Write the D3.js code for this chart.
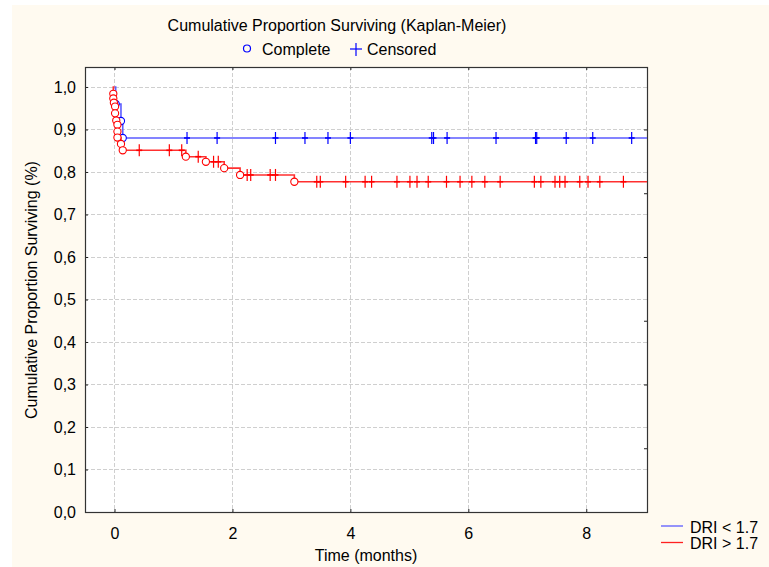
<!DOCTYPE html>
<html><head><meta charset="utf-8">
<script src="https://cdn.jsdelivr.net/npm/d3@7"></script>
<style>body{margin:0;background:#fff}svg{display:block}text{font-family:"Liberation Sans",Arial,sans-serif;fill:#000}</style>
</head><body>
<svg id="chart" width="769" height="567"></svg>
<script>
// ---- data ----
const yTicks = [0, 0.1, 0.2, 0.3, 0.4, 0.5, 0.6, 0.7, 0.8, 0.9, 1.0];
const yTicksRight = [0.15, 0.3, 0.45, 0.6, 0.75, 0.9];
const xTicks = [0, 2, 4, 6, 8];
const seriesNames = ["DRI < 1.7", "DRI > 1.7"];

// DRI < 1.7 : event (complete) times and survival after each event
const lowEventTimes = [0.02, 0.11, 0.14];
const lowEventSurv  = [0.96, 0.92, 0.88];
const lowCensored   = [1.23, 1.74, 2.73, 3.23, 3.62, 4.00, 5.38, 5.41, 5.64, 6.47, 7.14, 7.16, 7.66, 8.11, 8.77];

// DRI > 1.7
const highEventTimes = [-0.02, -0.02, -0.01, 0.01, 0.01, 0.03, 0.05, 0.05, 0.05, 0.11, 0.14, 1.21, 1.55, 1.86, 2.13, 3.05];
const highEventSurv  = [0.984, 0.973, 0.963, 0.954, 0.938, 0.921, 0.911, 0.895, 0.881, 0.866, 0.851, 0.836, 0.824, 0.809, 0.793, 0.777];
const highCensored   = [0.42, 0.93, 1.14, 1.42, 1.68, 1.76, 2.25, 2.31, 2.64, 2.73,
  3.43, 3.49, 3.92, 4.25, 4.36, 4.79, 5.01, 5.13, 5.32, 5.63, 5.86, 6.06, 6.28, 6.54,
  7.12, 7.23, 7.47, 7.55, 7.64, 7.89, 8.03, 8.23, 8.63];

// ---- layout ----
const svg = d3.select("#chart");
const L = 85, R = 647, T = 67, B = 512;
const x = d3.scaleLinear().domain([-0.5, 9.03]).range([L, R]);
const y = d3.scaleLinear().domain([0, 1.047]).range([B, T]);

svg.append("rect").attr("x", 12).attr("y", 5).attr("width", 757).attr("height", 562).attr("fill", "#fffaf0");
svg.append("rect").attr("x", L).attr("y", T).attr("width", R - L).attr("height", B - T).attr("fill", "#fff");

// grid
const grid = svg.append("g").attr("stroke", "#cfcfcf").attr("stroke-dasharray", "4,2").attr("stroke-width", 1);
yTicks.filter(d => d > 0).forEach(d => grid.append("line").attr("x1", L).attr("x2", R).attr("y1", Math.round(y(d)) + 0.5).attr("y2", Math.round(y(d)) + 0.5));
xTicks.forEach(d => grid.append("line").attr("y1", T).attr("y2", B).attr("x1", Math.round(x(d)) + 0.5).attr("x2", Math.round(x(d)) + 0.5));

// axes (inward ticks on all sides)
const axL = d3.axisLeft(y).tickValues(yTicks).tickSize(-3).tickPadding(9).tickFormat(d => d3.format(".1f")(d).replace(".", ","));
const axB = d3.axisBottom(x).tickValues(xTicks).tickSize(-3).tickPadding(16).tickFormat(d3.format("d"));
const axR = d3.axisRight(y).tickValues(yTicksRight).tickSize(-3).tickFormat("");
const axT = d3.axisTop(x).tickValues(xTicks).tickSize(-3).tickFormat("");
function styleAx(g) { g.select(".domain").remove(); g.selectAll("line").attr("stroke", "#222"); g.selectAll("text").attr("font-size", 16).attr("font-family", "Liberation Sans, Arial, sans-serif").attr("fill", "#000"); }
svg.append("g").attr("transform", `translate(${L},0)`).call(axL).call(styleAx);
svg.append("g").attr("transform", `translate(0,${B})`).call(axB).call(styleAx);
svg.append("g").attr("transform", `translate(${R},0)`).call(axR).call(styleAx);
svg.append("g").attr("transform", `translate(0,${T})`).call(axT).call(styleAx);
svg.append("rect").attr("x", L + 0.5).attr("y", T + 0.5).attr("width", R - L).attr("height", B - T).attr("fill", "none").attr("stroke", "#333").attr("stroke-width", 1.2);

// survival curves
function survAt(times, surv, t) { let s = 1; times.forEach((tt, i) => { if (tt <= t) s = surv[i]; }); return s; }
const line = d3.line().x(d => x(d[0])).y(d => y(d[1])).curve(d3.curveStepAfter);
function drawSeries(times, surv, cens, lineCol, markCol) {
  const g = svg.append("g");
  const pts = [[0, 1]].concat(times.map((t, i) => [t, surv[i]]));
  pts.push([9.03, surv[surv.length - 1]]);
  g.append("path").datum(pts).attr("d", line).attr("fill", "none").attr("stroke", lineCol).attr("stroke-width", 1.6);
  cens.forEach(t => {
    const cx = x(t), cy = y(survAt(times, surv, t));
    g.append("line").attr("x1", cx).attr("x2", cx).attr("y1", cy - 6).attr("y2", cy + 6).attr("stroke", markCol).attr("stroke-width", 1.2);
    g.append("line").attr("x1", cx - 3).attr("x2", cx + 3).attr("y1", cy).attr("y2", cy).attr("stroke", markCol).attr("stroke-width", 1.6);
  });
  times.forEach((t, i) => {
    g.append("circle").attr("cx", x(t)).attr("cy", y(surv[i])).attr("r", 3.6).attr("fill", "#fff").attr("stroke", markCol).attr("stroke-width", 1.1);
  });
}
drawSeries(lowEventTimes, lowEventSurv, lowCensored, "#5c5cff", "#0000ff");
drawSeries(highEventTimes, highEventSurv, highCensored, "#ff3030", "#ff0000");

// titles
svg.append("text").attr("x", 337).attr("y", 31).attr("text-anchor", "middle").attr("font-size", 16).text("Cumulative Proportion Surviving (Kaplan-Meier)");
svg.append("circle").attr("cx", 247).attr("cy", 48.5).attr("r", 3.5).attr("fill", "none").attr("stroke", "#0000ff").attr("stroke-width", 1.2);
svg.append("text").attr("x", 262).attr("y", 55).attr("font-size", 16).text("Complete");
svg.append("line").attr("x1", 350).attr("x2", 362).attr("y1", 49).attr("y2", 49).attr("stroke", "#0000ff").attr("stroke-width", 1.2);
svg.append("line").attr("x1", 356).attr("x2", 356).attr("y1", 43).attr("y2", 56).attr("stroke", "#0000ff").attr("stroke-width", 1.2);
svg.append("text").attr("x", 367).attr("y", 55).attr("font-size", 16).text("Censored");
svg.append("text").attr("transform", "translate(37,290) rotate(-90)").attr("text-anchor", "middle").attr("font-size", 16).text("Cumulative Proportion Surviving (%)");
svg.append("text").attr("x", 366).attr("y", 561).attr("text-anchor", "middle").attr("font-size", 16).text("Time (months)");

// bottom-right legend
const legCols = ["#5c5cff", "#ff2020"];
seriesNames.forEach((n, i) => {
  svg.append("line").attr("x1", 661).attr("x2", 683).attr("y1", 526 + i * 16.5).attr("y2", 526 + i * 16.5).attr("stroke", legCols[i]).attr("stroke-width", 1.3);
  svg.append("text").attr("x", 690).attr("y", 533 + i * 16).attr("font-size", 16).text(n);
});
</script>
</body></html>
